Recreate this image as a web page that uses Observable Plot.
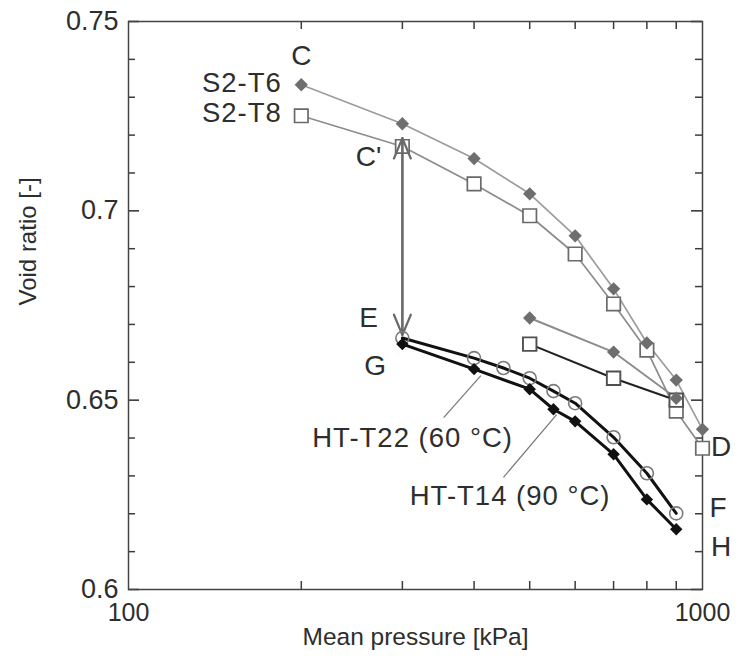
<!DOCTYPE html>
<html>
<head>
<meta charset="utf-8">
<script src="https://cdn.jsdelivr.net/npm/d3@7"></script>
<script src="https://cdn.jsdelivr.net/npm/@observablehq/plot@0.6"></script>
<style>
  html, body { margin: 0; padding: 0; background: #fff; }
  #chart svg { display: block; }
</style>
</head>
<body>
<div id="chart"></div>
<script>
// ---- data ----
const s2t6Pressure = [200, 300, 400, 500, 600, 700, 800, 900, 1000];
const s2t6Void     = [0.7333, 0.7230, 0.7138, 0.7045, 0.6934, 0.6794, 0.6651, 0.6553, 0.6423];
const s2t8Pressure = [200, 300, 400, 500, 600, 700, 800, 900, 1000];
const s2t8Void     = [0.7251, 0.7170, 0.7071, 0.6987, 0.6886, 0.6754, 0.6632, 0.6471, 0.6373];
const s2t6UnloadPressure = [500, 700, 900];
const s2t6UnloadVoid     = [0.6717, 0.6627, 0.6505];
const s2t8UnloadPressure = [500, 700, 900];
const s2t8UnloadVoid     = [0.6648, 0.6558, 0.6500];
const ht22Pressure = [300, 400, 450, 500, 550, 600, 700, 800, 900];
const ht22Void     = [0.6664, 0.6611, 0.6585, 0.6558, 0.6524, 0.6492, 0.6402, 0.6307, 0.6201];
const ht14Pressure = [300, 400, 500, 550, 600, 700, 800, 900];
const ht14Void     = [0.6648, 0.6582, 0.6529, 0.6476, 0.6444, 0.6357, 0.6238, 0.6159];

// double-headed arrow C' <-> E
const arrowPressure = [300];
const arrowTop    = [0.7192];
const arrowBottom = [0.6672];

// ticks
const yMajorTicks = [0.6, 0.65, 0.7, 0.75];
const yMinorTicks = [0.61, 0.62, 0.63, 0.64, 0.66, 0.67, 0.68, 0.69, 0.71, 0.72, 0.73, 0.74];
const xLabelTicks = [100, 1000];
const xMinorTicks = [200, 300, 400, 500, 600, 700, 800, 900];

// annotations (pressure, void ratio)
const letterText     = ["C", "C'", "E", "G", "D", "F", "H"];
const letterPressure = [200, 262, 262, 269, 1078, 1064, 1078];
const letterVoid     = [0.7410, 0.7141, 0.6716, 0.6589, 0.6375, 0.6214, 0.6111];
const seriesText     = ["S2-T6", "S2-T8"];
const seriesPressure = [185, 185];
const seriesVoid     = [0.7336, 0.7257];
const htText     = ["HT-T22 (60 °C)", "HT-T14 (90 °C)"];
const htPressure = [209, 309];
const htVoid     = [0.6399, 0.6246];
const leaderP1 = [354, 450];
const leaderE1 = [0.6454, 0.6296];
const leaderP2 = [411, 557];
const leaderE2 = [0.6565, 0.6462];

// ---- tables ----
const rows = (ps, es) => ps.map((p, i) => ({p, e: es[i]}));
const s2t6 = rows(s2t6Pressure, s2t6Void);
const s2t8 = rows(s2t8Pressure, s2t8Void);
const s2t6u = rows(s2t6UnloadPressure, s2t6UnloadVoid);
const s2t8u = rows(s2t8UnloadPressure, s2t8UnloadVoid);
const ht22 = rows(ht22Pressure, ht22Void);
const ht14 = rows(ht14Pressure, ht14Void);
const arrows = arrowPressure.map((p, i) => ({p, top: arrowTop[i], bottom: arrowBottom[i]}));
const letters = letterText.map((t, i) => ({t, p: letterPressure[i], e: letterVoid[i]}));
const seriesLabels = seriesText.map((t, i) => ({t, p: seriesPressure[i], e: seriesVoid[i]}));
const htLabels = htText.map((t, i) => ({t, p: htPressure[i], e: htVoid[i]}));
const leaders = leaderP1.map((p, i) => ({p1: p, e1: leaderE1[i], p2: leaderP2[i], e2: leaderE2[i]}));

const FONT = "'Liberation Sans', Arial, Helvetica, sans-serif";
const TXT = "#2e2e2e";
const TICK = "#3c3c3c";
const W = 738, H = 664, ML = 128, MR = 36, MT = 21, MB = 75;
const FW = W - ML - MR, FH = H - MT - MB;

const chart = Plot.plot({
  width: W, height: H,
  marginLeft: ML, marginRight: MR, marginTop: MT, marginBottom: MB,
  style: {fontFamily: FONT, color: TXT, background: "#fff", overflow: "visible"},
  x: {type: "log", domain: [100, 1000]},
  y: {domain: [0.6, 0.75]},
  marks: [
    // inward ticks on all four sides
    Plot.ruleY(yMinorTicks, {y: d => d, insetRight: FW - 7, stroke: TICK, strokeWidth: 1.5}),
    Plot.ruleY(yMinorTicks, {y: d => d, insetLeft: FW - 7, stroke: TICK, strokeWidth: 1.5}),
    Plot.ruleY(yMajorTicks, {y: d => d, insetRight: FW - 11, stroke: TICK, strokeWidth: 1.6}),
    Plot.ruleY(yMajorTicks, {y: d => d, insetLeft: FW - 11, stroke: TICK, strokeWidth: 1.6}),
    Plot.ruleX(xMinorTicks, {x: d => d, insetTop: FH - 8, stroke: TICK, strokeWidth: 1.5}),
    Plot.ruleX(xMinorTicks, {x: d => d, insetBottom: FH - 8, stroke: TICK, strokeWidth: 1.5}),
    // tick labels
    Plot.axisY({ticks: yMajorTicks, tickSize: 0, tickPadding: 10, tickFormat: d => String(d), label: null, fontSize: 27, fill: TXT}),
    Plot.axisX({ticks: xLabelTicks, tickSize: 0, tickPadding: 14, tickFormat: d => String(d), label: null, fontSize: 25, fill: TXT}),
    Plot.frame({stroke: "#444", strokeWidth: 1.5}),
    // axis titles
    Plot.text(["Mean pressure [kPa]"], {frameAnchor: "bottom", dy: 55, text: d => d, fontSize: 24.5, fill: TXT}),
    Plot.text(["Void ratio [-]"], {frameAnchor: "left", dx: -100, rotate: -90, text: d => d, fontSize: 24, fill: TXT}),
    // S2 series
    Plot.line(s2t6, {x: "p", y: "e", stroke: "#9c9c9c", strokeWidth: 1.7}),
    Plot.line(s2t8, {x: "p", y: "e", stroke: "#8c8c8c", strokeWidth: 1.7}),
    Plot.line(s2t6u, {x: "p", y: "e", stroke: "#8c8c8c", strokeWidth: 1.9}),
    Plot.line(s2t8u, {x: "p", y: "e", stroke: "#222", strokeWidth: 2.1}),
    Plot.dot(s2t8, {x: "p", y: "e", symbol: "square", r: 7.6, stroke: "#6a6a6a", fill: "white", strokeWidth: 1.7}),
    Plot.dot(s2t8u, {x: "p", y: "e", symbol: "square", r: 7.6, stroke: "#505050", fill: "white", strokeWidth: 1.9}),
    Plot.dot(s2t6, {x: "p", y: "e", symbol: "diamond2", r: 6, fill: "#6e6e6e"}),
    Plot.dot(s2t6u, {x: "p", y: "e", symbol: "diamond2", r: 6, fill: "#6e6e6e"}),
    // arrow
    Plot.arrow(arrows, {x1: "p", x2: "p", y1: "top", y2: "bottom", stroke: "#6a6a6a", strokeWidth: 2.2, headLength: 15, headAngle: 45}),
    Plot.arrow(arrows, {x1: "p", x2: "p", y1: "bottom", y2: "top", stroke: "#6a6a6a", strokeWidth: 2.2, headLength: 15, headAngle: 45}),
    // HT series
    Plot.line(ht22, {x: "p", y: "e", stroke: "#111", strokeWidth: 3}),
    Plot.line(ht14, {x: "p", y: "e", stroke: "#111", strokeWidth: 3}),
    Plot.dot(ht22, {x: "p", y: "e", symbol: "circle", r: 6.5, stroke: "#7a7a7a", fill: "none", strokeWidth: 1.6}),
    Plot.dot(ht14, {x: "p", y: "e", symbol: "diamond2", r: 5.6, fill: "#111"}),
    // leaders
    Plot.link(leaders, {x1: "p1", y1: "e1", x2: "p2", y2: "e2", stroke: "#777", strokeWidth: 1.2}),
    // annotations
    Plot.text(letters, {x: "p", y: "e", text: "t", fontSize: 28, fill: TXT}),
    Plot.text(seriesLabels, {x: "p", y: "e", text: "t", fontSize: 27.5, textAnchor: "end", fill: TXT, ariaDescription: "wide-labels"}),
    Plot.text(htLabels, {x: "p", y: "e", text: "t", fontSize: 27.5, textAnchor: "start", fill: TXT, ariaDescription: "wide-labels"})
  ]
});

// the reference's annotation lettering is slightly wide: open up its letter spacing a little
chart.querySelectorAll('g[aria-description="wide-labels"]').forEach(g => {
  g.setAttribute("letter-spacing", "1px");
});

document.getElementById("chart").appendChild(chart);
</script>
</body>
</html>
